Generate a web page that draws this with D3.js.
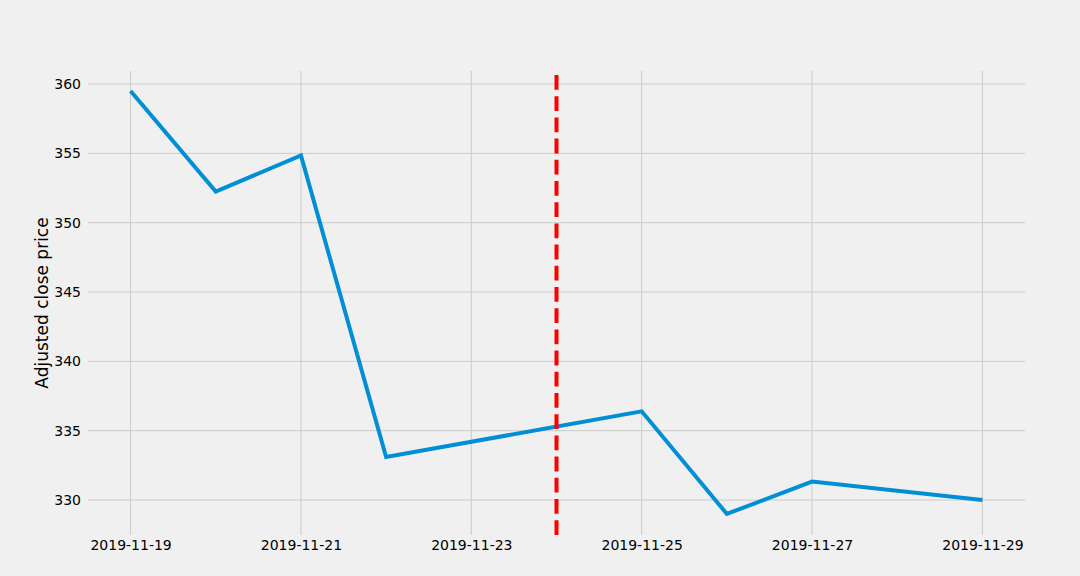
<!DOCTYPE html>
<html>
<head>
<meta charset="utf-8">
<script src="https://cdn.jsdelivr.net/npm/d3@7"></script>
<style>
  html, body { margin: 0; padding: 0; background: #f0f0f0; }
  svg { display: block; }
  text { font-family: "DejaVu Sans", sans-serif; }
</style>
</head>
<body>
<script>
const dates = ["2019-11-19", "2019-11-20", "2019-11-21", "2019-11-22", "2019-11-25", "2019-11-26", "2019-11-27", "2019-11-29"];
const prices = [359.5, 352.25, 354.85, 333.1, 336.4, 329.0, 331.33, 330.0];
const markerDate = "2019-11-24";
const xTickLabels = ["2019-11-19", "2019-11-21", "2019-11-23", "2019-11-25", "2019-11-27", "2019-11-29"];
const yTicks = [330, 335, 340, 345, 350, 355, 360];
const yLabel = "Adjusted close price";

const W = 1080, H = 576;
const m = { left: 88, right: 1025, top: 71, bottom: 535 };
const parse = d3.utcParse("%Y-%m-%d");
const day = 86400000;

const svg = d3.select("body").append("svg").attr("width", W).attr("height", H);
svg.append("rect").attr("width", W).attr("height", H).attr("fill", "#f0f0f0");

const x = d3.scaleUtc()
  .domain([new Date(+parse("2019-11-19") - day / 2), new Date(+parse("2019-11-29") + day / 2)])
  .range([m.left, m.right]);
const y = d3.scaleLinear().domain([327.48, 360.94]).range([m.bottom, m.top]);

// grid
const gx = svg.append("g");
gx.selectAll("line").data(xTickLabels).join("line")
  .attr("x1", d => x(parse(d))).attr("x2", d => x(parse(d)))
  .attr("y1", m.top).attr("y2", m.bottom)
  .attr("stroke", "#cbcbcb").attr("stroke-width", 1);
const gy = svg.append("g");
gy.selectAll("line").data(yTicks).join("line")
  .attr("x1", m.left).attr("x2", m.right)
  .attr("y1", d => y(d)).attr("y2", d => y(d))
  .attr("stroke", "#cbcbcb").attr("stroke-width", 1);

// axes via d3 axis
const xAxis = d3.axisBottom(x).tickValues(xTickLabels.map(parse)).tickFormat(d3.utcFormat("%Y-%m-%d")).tickSize(0).tickPadding(5);
const ax = svg.append("g").attr("transform", `translate(0,${m.bottom})`).call(xAxis);
ax.select(".domain").remove();
ax.selectAll("text").attr("font-size", 14).attr("fill", "#000").attr("font-family", "DejaVu Sans");

const yAxis = d3.axisLeft(y).tickValues(yTicks).tickSize(0).tickPadding(7);
const ay = svg.append("g").attr("transform", `translate(${m.left},0)`).call(yAxis);
ay.select(".domain").remove();
ay.selectAll("text").attr("font-size", 14).attr("fill", "#000").attr("font-family", "DejaVu Sans");

// y label
svg.append("text")
  .attr("transform", `translate(48,${(m.top + m.bottom) / 2}) rotate(-90)`)
  .attr("text-anchor", "middle")
  .attr("font-size", 17)
  .attr("fill", "#000")
  .text(yLabel);

// line
const line = d3.line().x((d, i) => x(parse(d))).y((d, i) => y(prices[i]));
svg.append("path").datum(dates)
  .attr("d", line)
  .attr("fill", "none")
  .attr("stroke", "#008fd5")
  .attr("stroke-width", 4)
  .attr("stroke-linejoin", "miter")
  .attr("stroke-linecap", "butt");

// vertical marker (drawn bottom to top)
svg.append("line")
  .attr("x1", x(parse(markerDate))).attr("x2", x(parse(markerDate)))
  .attr("y1", m.bottom).attr("y2", m.top)
  .attr("stroke", "red").attr("stroke-width", 4)
  .attr("stroke-dasharray", "14.8,6.4");
</script>
</body>
</html>
